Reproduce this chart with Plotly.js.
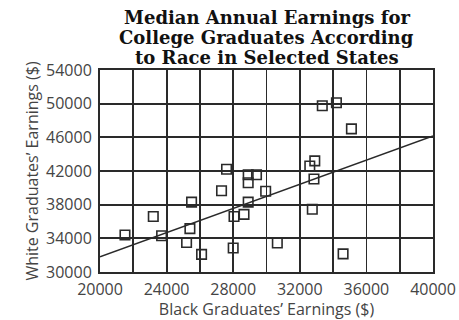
<!DOCTYPE html>
<html><head><meta charset="utf-8">
<script src="https://cdn.plot.ly/plotly-3.0.1.min.js"></script>
<style>html,body{margin:0;padding:0;background:#fff}</style>
</head><body><div id="chart" style="width:459px;height:320px"></div>
<script>
const blackEarnings = [21500,23200,23700,25500,25400,25200,26100,27300,27600,28900,29400,28900,29950,28900,28050,28650,28000,30650,32900,32600,32850,32750,34600,35100,33350,34200];
const whiteEarnings = [34400,36600,34300,38300,35150,33500,32100,39650,42200,41550,41550,40600,39600,38300,36600,36850,32850,33450,43200,42600,41050,37450,32150,47000,49750,50100];
const fitX = [20000, 40000];
const fitY = [31800, 46150];
const xTicks = [20000,24000,28000,32000,36000,40000];
const yTicks = [30000,34000,38000,42000,46000,50000,54000];
const titleLines = ['Median Annual Earnings for','College Graduates According','to Race in Selected States'];

const ink = '#2a2a2a';
const tickFont = {family:'Open Sans', size:16, color:'#444'};
const data = [
  {x: fitX, y: fitY, type:'scatter', mode:'lines', line:{color:ink, width:1.5}, hoverinfo:'skip'},
  {x: blackEarnings, y: whiteEarnings, type:'scatter', mode:'markers',
   marker:{symbol:'square-open', size:9.5, color:ink, line:{width:1.6, color:ink}}}
];
const titleY = [1.262, 1.162, 1.063];
const layout = {
  width:459, height:320,
  margin:{l:100, r:26, t:70, b:48},
  paper_bgcolor:'#fff', plot_bgcolor:'#fff',
  showlegend:false,
  annotations: titleLines.map((t,i)=>({text:t, xref:'paper', yref:'paper', x:0.5, y:titleY[i],
    xanchor:'center', yanchor:'middle', showarrow:false,
    font:{family:'DejaVu Serif', size:18, color:'#111', weight:'bold'}})),
  xaxis:{range:[20000,40000], tickvals:xTicks, ticktext:xTicks.map(String),
    showgrid:true, gridcolor:ink, gridwidth:1.8,
    minor:{dtick:2000, tick0:20000, showgrid:true, gridcolor:ink, gridwidth:1.8},
    showline:true, linecolor:ink, linewidth:2, mirror:true, zeroline:false,
    ticks:'', tickfont:tickFont, automargin:false, ticklabelstandoff:2,
    title:{text:"Black Graduates’ Earnings ($)", font:{family:'Open Sans', size:16, color:'#444'}, standoff:3}},
  yaxis:{range:[30000,54000], tickvals:yTicks, ticktext:yTicks.map(String),
    showgrid:true, gridcolor:ink, gridwidth:1.8,
    showline:true, linecolor:ink, linewidth:2, mirror:true, zeroline:false,
    ticks:'', tickfont:tickFont, automargin:false, ticklabelstandoff:3,
    title:{text:"White Graduates’ Earnings ($)", font:{family:'Open Sans', size:16, color:'#444'}, standoff:3}}
};
Plotly.newPlot('chart', data, layout, {displayModeBar:false, staticPlot:true});
</script></body></html>
